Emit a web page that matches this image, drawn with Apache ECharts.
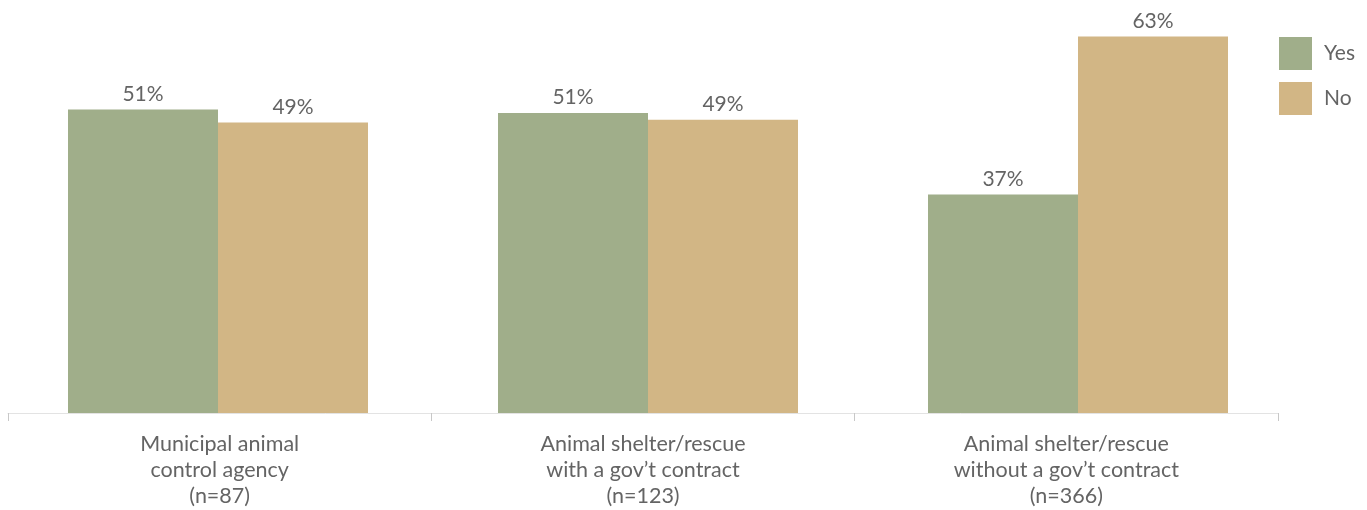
<!DOCTYPE html>
<html>
<head>
<meta charset="utf-8">
<script src="https://cdn.jsdelivr.net/npm/echarts@6/dist/echarts.min.js"></script>
<style>
  html, body { margin: 0; padding: 0; background: #fff; }
  #chart { width: 1367px; height: 510px; }
</style>
</head>
<body>
<div id="chart"></div>
<script>
// data (percent)
const categories = [
    'Municipal animal\ncontrol agency\n(n=87)',
    'Animal shelter/rescue\nwith a gov\u2019t contract\n(n=123)',
    'Animal shelter/rescue\nwithout a gov\u2019t contract\n(n=366)'
];
const seriesNames = ['Yes', 'No'];
const yesValues = [51.1, 50.5, 36.8];
const noValues = [48.9, 49.4, 63.4];

const colors = ['#a0ae8a', '#d2b685'];
const textColor = '#646464';
const fontFamily = 'Lato, "Open Sans", sans-serif';

const chart = echarts.init(document.getElementById('chart'));

const barLabel = {
    show: true,
    position: 'top',
    distance: 5,
    color: textColor,
    fontSize: 21,
    fontFamily: fontFamily,
    formatter: p => Math.round(p.value) + '%'
};

const option = {
    animation: false,
    textStyle: { fontFamily: fontFamily },
    legend: {
        orient: 'vertical',
        left: 1279,
        top: 37,
        padding: 0,
        itemWidth: 33,
        itemHeight: 33,
        itemGap: 12,
        icon: 'rect',
        data: seriesNames,
        textStyle: { fontSize: 21, color: textColor, fontFamily: fontFamily, padding: [0, 0, 0, 7] }
    },
    grid: [
        // axis + labels
        { left: 8, width: 1270, top: 27, bottom: 97 },
        // bars (slightly wider spacing, as in the original)
        { left: 3, width: 1290, top: 27, bottom: 97 }
    ],
    xAxis: [
        {
            gridIndex: 0,
            type: 'category',
            data: categories,
            axisLine: { lineStyle: { color: '#e3e3e3', width: 1 } },
            axisTick: { show: true, length: 8, lineStyle: { color: '#c8c8c8' } },
            axisLabel: {
                color: textColor,
                fontSize: 21.5,
                lineHeight: 26,
                margin: 18,
                fontFamily: fontFamily,
                interval: 0
            }
        },
        {
            gridIndex: 1,
            type: 'category',
            data: categories,
            show: false
        }
    ],
    yAxis: [
        { gridIndex: 0, type: 'value', min: 0, max: 65, show: false },
        { gridIndex: 1, type: 'value', min: 0, max: 65, show: false }
    ],
    series: [
        {
            name: seriesNames[0],
            type: 'bar',
            xAxisIndex: 1,
            yAxisIndex: 1,
            data: yesValues,
            barWidth: 150,
            barGap: '0%',
            itemStyle: { color: colors[0] },
            label: barLabel
        },
        {
            name: seriesNames[1],
            type: 'bar',
            xAxisIndex: 1,
            yAxisIndex: 1,
            data: noValues,
            barWidth: 150,
            barGap: '0%',
            itemStyle: { color: colors[1] },
            label: barLabel
        }
    ]
};

chart.setOption(option);
</script>
</body>
</html>
